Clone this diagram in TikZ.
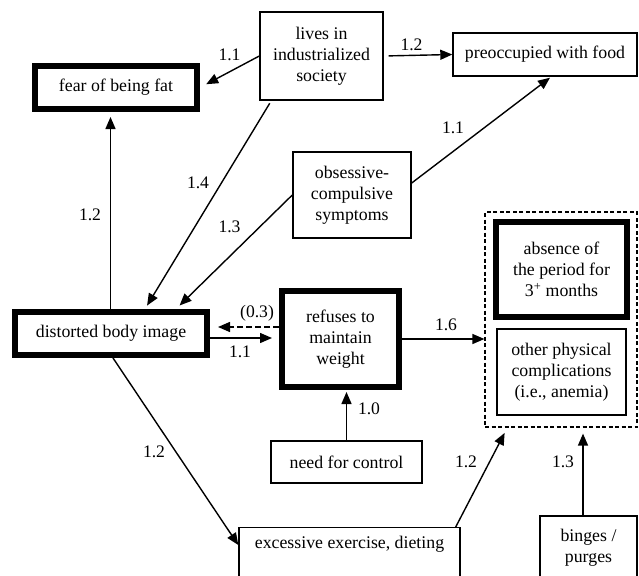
\documentclass[tikz,border=0pt]{standalone}
\usepackage{fontspec}
\setmainfont{Liberation Serif}
\usetikzlibrary{arrows.meta,calc}

\tikzset{
  thinbox/.style={draw, line width=1.4pt, align=center, inner sep=0pt},
  thickbox/.style={draw, line width=6pt, align=center, inner sep=0pt},
  groupbox/.style={draw, line width=1.2pt, dash pattern=on 4pt off 2.5pt},
  arr/.style={line width=1.4pt, -{Triangle[length=12pt,width=10pt]}},
  weight/.style={inner sep=0pt, font=\fontsize{17.6}{20}\selectfont},
}

\begin{document}
\begin{tikzpicture}[x=1pt, y=1pt, font=\fontsize{17.8}{21}\selectfont]
\useasboundingbox (0,0) rectangle (639,-575);
\clip (0,0) rectangle (639,-575);

% boxes
\node[thickbox, minimum width=162, minimum height=43] (fear) at (116,-87.5) {fear of being fat};
\node[thinbox, minimum width=123, minimum height=88] (lives) at (321.5,-56) {lives in\\industrialized\\society};
\node[thinbox, minimum width=184, minimum height=43] (food) at (545,-54.5) {preoccupied with food};
\node[thinbox, minimum width=118, minimum height=86] (ocd) at (352,-195) {obsessive-\\compulsive\\symptoms};
\node[thickbox, minimum width=192, minimum height=43] (body) at (111,-333.5) {distorted body image};
\node[thickbox, minimum width=117, minimum height=96] (refuse) at (340.5,-339) {refuses to\\maintain\\weight};
\node[groupbox, minimum width=152, minimum height=215] (group) at (561,-319.5) {};
\node[thickbox, minimum width=131, minimum height=95] (period) at (561.5,-269.5) {absence of\\the period for\\3\textsuperscript{+} months};
\node[thinbox, minimum width=129, minimum height=86] (other) at (561.5,-372) {other physical\\complications\\(i.e., anemia)};
\node[thinbox, minimum width=151, minimum height=42] (control) at (346.5,-462) {need for control};
\node[thinbox, anchor=north, minimum width=221, inner ysep=9pt, text height=12pt, text depth=45pt] (exercise) at (349.5,-527) {excessive exercise, dieting};
\node[thinbox, minimum width=97, minimum height=63] (binge) at (588.5,-547.5) {binges /\\purges};

% connectors
\draw[arr, shorten >=7pt] (lives.west) -- (fear.east);
\draw[arr, shorten <=5pt] (lives.east) -- (food.west);
\draw[arr, shorten <=3pt, shorten >=4pt] ($(lives.south west)+(12,0)$) -- ($(body.north)+(34,0)$);
\draw[arr] ($(ocd.east)+(0,12)$) -- ($(food.south)+(5,-1)$);
\draw[arr, shorten >=5pt] (ocd.west) -- ($(body.north)+(65,0)$);
\draw[arr, shorten >=5pt] ($(body.north)+(-0.5,0)$) coordinate (bn) -- (bn |- fear.south);
\draw[arr, dash pattern=on 6pt off 3pt, shorten >=8pt] ($(refuse.west)+(0,12)$) coordinate (rw) -- (rw -| body.east);
\draw[arr, shorten >=7pt] ($(body.east)+(0,-4.5)$) coordinate (be) -- (be -| refuse.west);
\draw[arr] (refuse.east) -- (refuse.east -| group.west);
\draw[arr, shorten >=2pt] (control.north) -- (control.north |- refuse.south);
\draw[arr] ($(body.south)+(2,0)$) -- ($(exercise.north west)+(0,-18)$);
\draw[arr, shorten >=6pt] ($(exercise.north east)+(-5,0)$) -- ($(group.south west)+(23,0)$);
\draw[arr, shorten >=6pt] ($(binge.north)+(-5.5,0)$) coordinate (bt) -- (bt |- group.south);

% path weights
\node[weight] (w1) at (229.5,-55) {1.1};
\node[weight] (w2) at (411.5,-45) {1.2};
\node[weight] (w3) at (198,-183) {1.4};
\node[weight] (w4) at (453,-128) {1.1};
\node[weight] (w5) at (229.5,-227) {1.3};
\node[weight] (w6) at (90,-215) {1.2};
\node[weight] (w7) at (257,-313) {(0.3)};
\node[weight] (w8) at (240,-352) {1.1};
\node[weight] (w9) at (446,-325) {1.6};
\node[weight] (w10) at (369,-409) {1.0};
\node[weight] (w11) at (154,-452) {1.2};
\node[weight] (w12) at (466,-462) {1.2};
\node[weight] (w13) at (563,-462) {1.3};
\end{tikzpicture}
\end{document}
